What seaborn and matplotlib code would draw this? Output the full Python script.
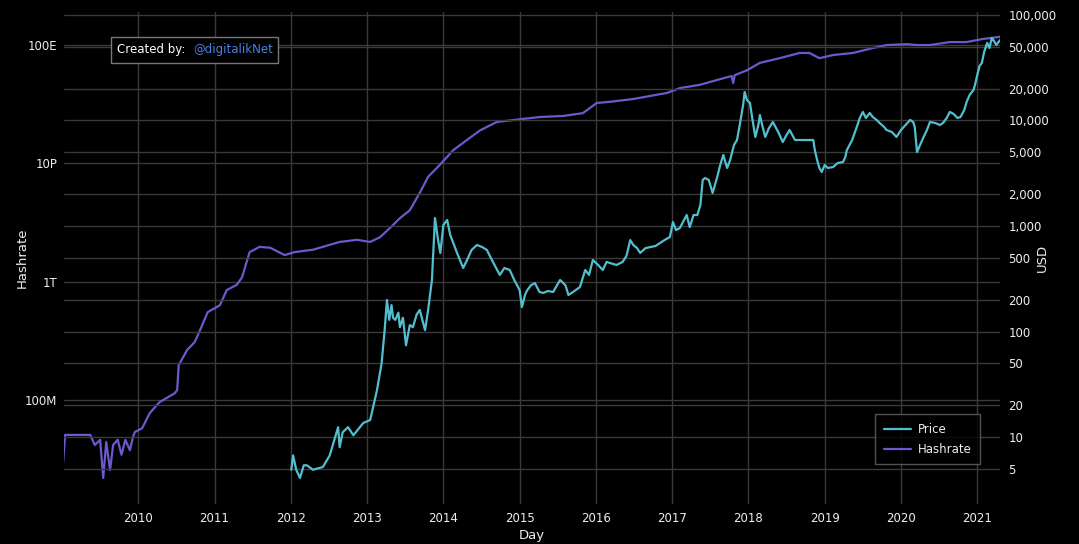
import matplotlib.pyplot as plt
import seaborn as sns
import pandas as pd
from matplotlib.ticker import FixedLocator, FuncFormatter, NullLocator
from matplotlib.patches import Rectangle
from matplotlib.lines import Line2D

# hashrate (H/s), x as decimal year
hash_year = [2009.015, 2009.04, 2009.37, 2009.43, 2009.50, 2009.54, 2009.58, 2009.63, 2009.67,
             2009.73, 2009.78, 2009.83, 2009.89, 2009.93, 2009.956, 2010.05, 2010.15, 2010.28,
             2010.38, 2010.48, 2010.51, 2010.53, 2010.64, 2010.74, 2010.81, 2010.91, 2011.07,
             2011.16, 2011.29, 2011.36, 2011.46, 2011.59, 2011.73, 2011.92, 2012.05, 2012.29,
             2012.64, 2012.87, 2013.04, 2013.17, 2013.30, 2013.43, 2013.56, 2013.69, 2013.80,
             2013.95, 2014.13, 2014.31, 2014.48, 2014.70, 2014.91, 2015.27, 2015.57, 2015.83,
             2016.01, 2016.18, 2016.49, 2016.93, 2017.10, 2017.36, 2017.59, 2017.78, 2017.80,
             2017.82, 2017.98, 2018.15, 2018.41, 2018.67, 2018.80, 2018.93, 2019.11, 2019.37,
             2019.63, 2019.81, 2020.08, 2020.21, 2020.38, 2020.64, 2020.86, 2021.07, 2021.30]
hash_rate = [7.9e5, 6.6e6, 6.6e6, 3.0e6, 4.5e6, 2.3e5, 3.8e6, 4.3e5, 3.0e6,
             4.5e6, 1.4e6, 4.5e6, 2.0e6, 5.6e6, 8.3e6, 1.1e7, 3.6e7, 8.5e7,
             1.2e8, 1.7e8, 2.2e8, 1.5e9, 4.9e9, 9.1e9, 2.3e10, 9.3e10, 1.6e11,
             5.2e11, 7.8e11, 1.4e12, 1.0e13, 1.5e13, 1.4e13, 7.9e12, 1.0e13, 1.2e13,
             2.2e13, 2.6e13, 2.2e13, 3.2e13, 6.5e13, 1.4e14, 2.6e14, 1.0e15, 3.5e15,
             8.7e15, 2.8e16, 6.2e16, 1.3e17, 2.5e17, 2.9e17, 3.7e17, 4.0e17, 5.0e17,
             1.1e18, 1.2e18, 1.5e18, 2.4e18, 3.5e18, 4.5e18, 6.6e18, 9.0e18, 5.2e18,
             9.6e18, 1.4e19, 2.5e19, 3.6e19, 5.4e19, 5.4e19, 3.6e19, 4.6e19, 5.4e19,
             7.9e19, 1.0e20, 1.07e20, 1.0e20, 1.0e20, 1.26e20, 1.26e20, 1.6e20, 1.9e20]

# price (USD)
price_year = [2012.006, 2012.03, 2012.07, 2012.12, 2012.17, 2012.21, 2012.29, 2012.42, 2012.51,
              2012.62, 2012.64, 2012.68, 2012.75, 2012.82, 2012.95, 2013.04, 2013.13, 2013.19,
              2013.23, 2013.26, 2013.29, 2013.32, 2013.34, 2013.37, 2013.41, 2013.43, 2013.47,
              2013.51, 2013.56, 2013.60, 2013.65, 2013.69, 2013.76, 2013.80, 2013.85, 2013.89,
              2013.93, 2013.96, 2014.00, 2014.05, 2014.09, 2014.13, 2014.19, 2014.26, 2014.31,
              2014.37, 2014.44, 2014.51, 2014.57, 2014.65, 2014.74, 2014.80, 2014.87, 2014.93,
              2015.00, 2015.03, 2015.07, 2015.10, 2015.15, 2015.20, 2015.26, 2015.31, 2015.37,
              2015.44, 2015.49, 2015.53, 2015.60, 2015.64, 2015.70, 2015.79, 2015.86, 2015.91,
              2015.96, 2016.03, 2016.09, 2016.14, 2016.18, 2016.27, 2016.35, 2016.40, 2016.45,
              2016.49, 2016.54, 2016.58, 2016.65, 2016.71, 2016.78, 2016.84, 2016.90, 2016.97,
              2017.01, 2017.05, 2017.10, 2017.19, 2017.23, 2017.28, 2017.33, 2017.37, 2017.40,
              2017.43, 2017.48, 2017.53, 2017.59, 2017.63, 2017.67, 2017.72, 2017.76, 2017.81,
              2017.85, 2017.89, 2017.93, 2017.95, 2017.98, 2018.02, 2018.05, 2018.09, 2018.13,
              2018.15, 2018.18, 2018.22, 2018.27, 2018.32, 2018.39, 2018.45, 2018.50, 2018.54,
              2018.61, 2018.67, 2018.77, 2018.85, 2018.87, 2018.90, 2018.93, 2018.96, 2019.00,
              2019.04, 2019.11, 2019.17, 2019.24, 2019.27, 2019.29, 2019.36, 2019.42, 2019.46,
              2019.50, 2019.54, 2019.59, 2019.63, 2019.68, 2019.72, 2019.78, 2019.81, 2019.88,
              2019.94, 2020.00, 2020.06, 2020.12, 2020.16, 2020.18, 2020.21, 2020.25, 2020.29,
              2020.34, 2020.38, 2020.45, 2020.51, 2020.55, 2020.60, 2020.64, 2020.69, 2020.74,
              2020.78, 2020.83, 2020.86, 2020.90, 2020.95, 2020.97, 2021.00, 2021.03, 2021.06,
              2021.09, 2021.13, 2021.16, 2021.19, 2021.21, 2021.25, 2021.30]
price_usd = [4.9, 6.7, 4.9, 4.1, 5.4, 5.4, 4.9, 5.2, 6.7,
             12.4, 8.0, 11.1, 12.4, 10.4, 13.6, 14.5, 27.9, 50,
             103, 199, 129, 178, 135, 129, 151, 110, 135,
             74, 115, 110, 145, 160, 103, 160, 308, 1190,
             741, 555, 1023, 1140, 822, 690, 531, 400, 476,
             593, 661, 631, 593, 456, 344, 400, 383, 308,
             247, 171, 222, 247, 275, 288, 237, 232, 242,
             237, 275, 308, 275, 222, 237, 264, 383, 344,
             476, 427, 383, 457, 447, 427, 457, 519, 736,
             661, 617, 555, 617, 631, 646, 690, 736, 787,
             1091, 916, 957, 1271, 977, 1271, 1271, 1585, 2729,
             2851, 2729, 2056, 2911, 3784, 4710, 3548, 4227, 5861,
             6531, 9462, 14030, 18620, 15630, 14660, 10470, 6982, 9057,
             11270, 9057, 6982, 8492, 9683, 7780, 6252, 7295, 8128,
             6531, 6531, 6531, 6531, 5248, 4227, 3548, 3251, 3784,
             3548, 3622, 3954, 4046, 4508, 5248, 6531, 8670, 10570,
             12050, 10570, 11780, 10790, 10120, 9462, 8670, 8128, 7780,
             6982, 8128, 9057, 10120, 9683, 8670, 5023, 5861, 6823,
             8128, 9683, 9462, 9057, 9462, 10570, 12050, 11530, 10570,
             10790, 12590, 14960, 17460, 19450, 21680, 26980, 32890, 35080,
             44670, 54330, 48640, 60530, 57940, 52000, 57940]

hash_ticks = [1e8, 1e12, 1e16, 1e20]
hash_tick_labels = ['100M', '1T', '10P', '100E']
price_ticks = [5, 10, 20, 50, 100, 200, 500, 1000, 2000, 5000, 10000, 20000, 50000, 100000]
year_ticks = list(range(2010, 2022))

hash_df = pd.DataFrame({'Day': hash_year, 'Hashrate': hash_rate})
price_df = pd.DataFrame({'Day': price_year, 'Price': price_usd})

sns.set_style('dark')
plt.rcParams['font.family'] = ['DejaVu Sans']

price_color = '#52bfcf'
hash_color = '#6a5acd'
grid_color = '#3a3a3a'
text_color = '#eeeeee'

fig = plt.figure(figsize=(10.79, 5.44), dpi=100, facecolor='black')
W, H = 1079, 544
ax1 = fig.add_axes([64 / W, 1 - 504 / H, 936 / W, 492 / H])
ax1.set_facecolor('black')
ax2 = ax1.twinx()

sns.lineplot(data=hash_df, x='Day', y='Hashrate', ax=ax1, color=hash_color,
             linewidth=1.6, estimator=None, sort=False)
sns.lineplot(data=price_df, x='Day', y='Price', ax=ax2, color=price_color,
             linewidth=1.6, estimator=None, sort=False)

ax1.set_yscale('log')
ax2.set_yscale('log')
ax1.set_xlim(2009.026, 2021.298)
ax1.set_ylim(3.04e4, 1.31e21)
ax2.set_ylim(2.32, 1.067e5)

ax1.xaxis.set_major_locator(FixedLocator(year_ticks))
ax1.xaxis.set_major_formatter(FuncFormatter(lambda v, p: f'{int(round(v))}'))
ax1.yaxis.set_major_locator(FixedLocator(hash_ticks))
ax1.yaxis.set_major_formatter(FuncFormatter(lambda v, p: hash_tick_labels[hash_ticks.index(v)] if v in hash_ticks else ''))
ax1.yaxis.set_minor_locator(NullLocator())
ax2.yaxis.set_major_locator(FixedLocator(price_ticks))
ax2.yaxis.set_major_formatter(FuncFormatter(lambda v, p: f'{int(v):,}'))
ax2.yaxis.set_minor_locator(NullLocator())

for ax in (ax1, ax2):
    for s in ax.spines.values():
        s.set_visible(False)
    ax.tick_params(length=0, labelsize=8.5, colors=text_color)
    ax.grid(True, axis='y', color=grid_color, linewidth=1)
ax1.grid(True, axis='x', color=grid_color, linewidth=1)
ax1.set_axisbelow(True)
ax2.set_axisbelow(True)
ax1.tick_params(axis='y', pad=5)
ax1.tick_params(axis='x', pad=6)
ax2.tick_params(axis='y', pad=6)

ax1.set_xlabel('Day', color=text_color, fontsize=9.5)
ax1.set_ylabel('Hashrate', color=text_color, fontsize=9.5)
ax2.set_ylabel('USD', color=text_color, fontsize=9.5)
ax1.xaxis.label.set_va('center')
ax1.yaxis.label.set_va('center')
ax2.yaxis.label.set_va('center')
ax1.xaxis.set_label_coords(0.5, (504 - 536) / 492)
ax1.yaxis.set_label_coords((22 - 64) / 936, 0.5)
ax2.yaxis.set_label_coords((1042 - 64) / 936, 0.5)

handles = [Line2D([], [], color=price_color, linewidth=1.6),
           Line2D([], [], color=hash_color, linewidth=1.6)]
leg = ax2.legend(handles, ['Price', 'Hashrate'], loc='lower right',
                 bbox_to_anchor=(980 / W, 1 - 464 / H), bbox_transform=fig.transFigure,
                 frameon=True, fancybox=False, fontsize=8.5, handlelength=2.3,
                 borderpad=0.7, labelspacing=0.6, handletextpad=0.6, borderaxespad=0)
leg.get_frame().set_facecolor('black')
leg.get_frame().set_edgecolor('#666666')
for t in leg.get_texts():
    t.set_color(text_color)

# credit box
fig.patches.append(Rectangle((111 / W, 1 - 63 / H), 167 / W, 26 / H, transform=fig.transFigure,
                             facecolor='black', edgecolor='#777777', linewidth=1, zorder=10))
fig.text(117 / W, 1 - 50 / H, 'Created by:', color='white', fontsize=8.5, va='center', zorder=11)
fig.text(193 / W, 1 - 50 / H, '@digitalikNet', color='#4a80e0', fontsize=8.5, va='center', zorder=11)

fig.savefig('out.png', dpi=100, facecolor='black')
